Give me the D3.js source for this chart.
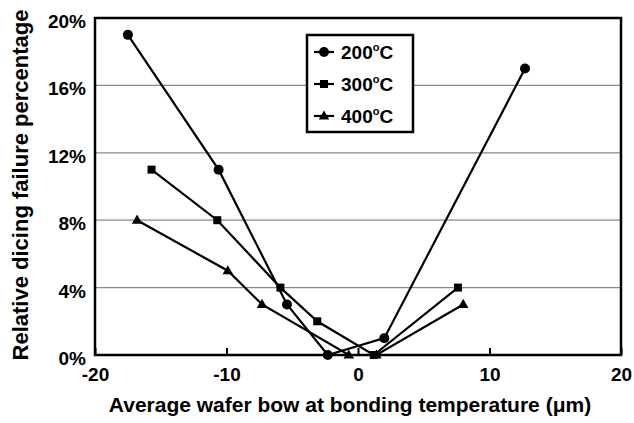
<!DOCTYPE html>
<html>
<head>
<meta charset="utf-8">
<script src="https://cdn.jsdelivr.net/npm/d3@7"></script>
<style>
  body { margin: 0; background: #fff; }
  svg { display: block; font-family: Arial, "Liberation Sans", sans-serif; font-weight: bold; }
</style>
</head>
<body>
<svg id="chart"></svg>
<script>
const WIDTH = 634, HEIGHT = 423
const MARGIN = { top: 18, right: 13, bottom: 68, left: 95 }

// series: wafer bow (um) vs failure (%)
const bow200 = [-17.5, -10.6, -5.4, -2.3, 2.0, 12.7]
const fail200 = [19, 11, 3, 0, 1, 17]
const bow300 = [-15.7, -10.7, -5.9, -3.1, 1.2, 7.6]
const fail300 = [11, 8, 4, 2, 0, 4]
const bow400 = [-16.8, -9.9, -7.3, -0.7, 1.4, 8.0]
const fail400 = [8, 5, 3, 0, 0, 3]

const seriesNames = ['200', '300', '400']
const xTicks = [-20, -10, 0, 10, 20]
const yTicks = [0, 4, 8, 12, 16, 20]

const series = [
    { name: seriesNames[0], marker: 'circle', pts: bow200.map((x, i) => ({ x, y: fail200[i] })) },
    { name: seriesNames[1], marker: 'square', pts: bow300.map((x, i) => ({ x, y: fail300[i] })) },
    { name: seriesNames[2], marker: 'triangle', pts: bow400.map((x, i) => ({ x, y: fail400[i] })) },
]

const innerWidth = WIDTH - MARGIN.left - MARGIN.right
const innerHeight = HEIGHT - MARGIN.top - MARGIN.bottom

const svg = d3.select('#chart').attr('width', WIDTH).attr('height', HEIGHT)
const g = svg.append('g').attr('transform', `translate(${MARGIN.left},${MARGIN.top})`)

const x = d3.scaleLinear().domain([-20, 20]).range([0, innerWidth])
const y = d3.scaleLinear().domain([0, 20]).range([innerHeight, 0])

// gridlines
g.selectAll('.grid').data(yTicks.filter(t => t > 0 && t < 20)).enter()
    .append('line').attr('class', 'grid')
    .attr('x1', 0).attr('x2', innerWidth)
    .attr('y1', d => y(d)).attr('y2', d => y(d))
    .attr('stroke', '#888').attr('stroke-width', 1.2)

// frame
g.append('rect')
    .attr('x', 0).attr('y', 0)
    .attr('width', innerWidth).attr('height', innerHeight)
    .attr('fill', 'none').attr('stroke', '#000').attr('stroke-width', 2.5)

// x axis (ticks pointing inward)
const xAxis = g.append('g')
    .attr('transform', `translate(0,${innerHeight})`)
    .call(d3.axisBottom(x).tickValues(xTicks).tickFormat(d => String(d))
        .tickSizeInner(-7).tickSizeOuter(0).tickPadding(13))
xAxis.select('.domain').remove()
xAxis.selectAll('line').attr('stroke-width', 2)
xAxis.selectAll('text').style('font-size', '19px').style('font-weight', 'bold').attr('fill', '#000')
    .attr('font-family', 'Arial, "Liberation Sans", sans-serif')

// y axis
const yAxis = g.append('g')
    .call(d3.axisLeft(y).tickValues(yTicks).tickFormat(d => d + '%').tickSize(0).tickPadding(9))
yAxis.select('.domain').remove()
yAxis.selectAll('text').style('font-size', '19px').style('font-weight', 'bold').attr('fill', '#000')
    .attr('font-family', 'Arial, "Liberation Sans", sans-serif')
    .attr('dy', '0.5em')

// lines
const lineGen = d3.line().x(d => x(d.x)).y(d => y(d.y))
const tri = d3.symbol().type(d3.symbolTriangle).size(48)

function drawMarker(sel, kind) {
    if (kind === 'circle') {
        sel.append('circle').attr('r', 5).attr('fill', '#000')
    } else if (kind === 'square') {
        sel.append('rect').attr('x', -4).attr('y', -4).attr('width', 8).attr('height', 8).attr('fill', '#000')
    } else {
        sel.append('path').attr('d', tri).attr('fill', '#000').attr('transform', 'translate(0,0.5)')
    }
}

series.forEach(s => {
    g.append('path').datum(s.pts)
        .attr('fill', 'none').attr('stroke', '#000').attr('stroke-width', 2.2)
        .attr('d', lineGen)
    g.selectAll(null).data(s.pts).enter()
        .append('g')
        .attr('transform', d => `translate(${x(d.x)},${y(d.y)})`)
        .each(function () { drawMarker(d3.select(this), s.marker) })
})

// legend
const legend = g.append('g').attr('transform', 'translate(212,17)')
legend.append('rect')
    .attr('width', 106).attr('height', 97)
    .attr('fill', '#fff').attr('stroke', '#000').attr('stroke-width', 2.5)
series.forEach((s, i) => {
    const row = legend.append('g').attr('transform', `translate(0,${17 + i * 32})`)
    row.append('line').attr('x1', 7).attr('x2', 27).attr('stroke', '#000').attr('stroke-width', 2.2)
    drawMarker(row.append('g').attr('transform', 'translate(17,0)'), s.marker)
    const t = row.append('text').attr('x', 34).attr('y', 7).style('font-size', '19px')
    t.append('tspan').text(s.name)
    t.append('tspan').attr('dy', -8).style('font-size', '11px').text('o')
    t.append('tspan').attr('dy', 8).text('C')
})

// axis titles
svg.append('text')
    .attr('x', 350).attr('y', 412)
    .attr('text-anchor', 'middle').style('font-size', '21px')
    .text('Average wafer bow at bonding temperature (\u03bcm)')

svg.append('text')
    .attr('transform', 'translate(28,185) rotate(-90)')
    .attr('text-anchor', 'middle').style('font-size', '22px')
    .text('Relative dicing failure percentage')
</script>
</body>
</html>
